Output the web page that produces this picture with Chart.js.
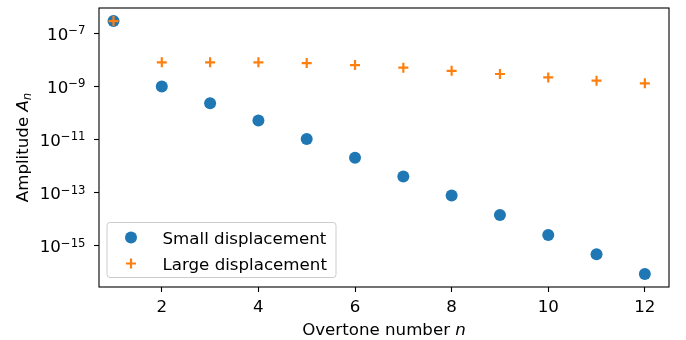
<!DOCTYPE html>
<html>
<head>
<meta charset="utf-8">
<script src="https://cdn.jsdelivr.net/npm/chart.js@4.4.0/dist/chart.umd.min.js"></script>
<style>
  body { margin: 0; background: #fff; }
  canvas { display: block; }
</style>
</head>
<body>
<canvas id="overtone-chart" width="686" height="340"></canvas>
<script>
// Overtone amplitudes for the two displacement cases
const overtones = [1, 2, 3, 4, 5, 6, 7, 8, 9, 10, 11, 12];
const smallAmp = [2.9e-7, 1.0e-9, 2.35e-10, 5.3e-11, 1.06e-11, 2.1e-12, 4.1e-13, 7.9e-14, 1.45e-14, 2.6e-15, 4.9e-16, 8.9e-17];
const largeAmp = [2.9e-7, 8.1e-9, 8.1e-9, 8.1e-9, 7.6e-9, 6.4e-9, 5.1e-9, 3.9e-9, 2.95e-9, 2.2e-9, 1.65e-9, 1.32e-9];
const xTicks = [2, 4, 6, 8, 10, 12];
const yTicks = [1e-7, 1e-9, 1e-11, 1e-13, 1e-15];

const FONT = '"DejaVu Sans", sans-serif';
const BIG = 16.67;
const SMALL = 11.7;

// Draw runs of text (regular / italic, optional baseline shift) starting at x
function drawRuns(ctx, runs, x, y) {
    runs.forEach(r => {
        ctx.font = (r.italic ? 'oblique ' : '') + r.size + 'px ' + FONT;
        ctx.fillText(r.text, x, y + (r.dy || 0));
        x += ctx.measureText(r.text).width;
    });
}

function runsWidth(ctx, runs) {
    return runs.reduce((w, r) => {
        ctx.font = (r.italic ? 'oblique ' : '') + r.size + 'px ' + FONT;
        return w + ctx.measureText(r.text).width;
    }, 0);
}

function drawMarker(ctx, ds, x, y) {
    ctx.save();
    if (ds.pointStyle === 'cross') {
        const r = ds.pointRadius;
        ctx.strokeStyle = ds.borderColor;
        ctx.lineWidth = ds.borderWidth;
        ctx.beginPath();
        ctx.moveTo(x - r, y); ctx.lineTo(x + r, y);
        ctx.moveTo(x, y - r); ctx.lineTo(x, y + r);
        ctx.stroke();
    } else {
        ctx.fillStyle = ds.backgroundColor;
        ctx.beginPath();
        ctx.arc(x, y, ds.pointRadius, 0, Math.PI * 2);
        ctx.fill();
    }
    ctx.restore();
}

// Frame, tick labels with exponents, axis titles and the inset legend
const axesDecor = {
    id: 'axesDecor',
    afterDraw(chart) {
        const { ctx, chartArea: a, scales } = chart;
        ctx.save();

        ctx.strokeStyle = '#000';
        ctx.lineWidth = 1.1;
        ctx.strokeRect(a.left, a.top, a.right - a.left, a.bottom - a.top);

        ctx.fillStyle = '#000';
        ctx.textBaseline = 'alphabetic';

        // x tick labels
        ctx.textAlign = 'center';
        ctx.font = BIG + 'px ' + FONT;
        scales.x.ticks.forEach(t => {
            ctx.fillText(String(t.value), scales.x.getPixelForValue(t.value), a.bottom + 24.8);
        });

        // y tick labels as 10^exp
        ctx.textAlign = 'left';
        scales.y.ticks.forEach(t => {
            const py = scales.y.getPixelForValue(t.value);
            const exp = Math.round(Math.log10(t.value));
            const runs = [
                { text: '10', size: BIG },
                { text: (exp < 0 ? '\u2212' : '') + Math.abs(exp), size: SMALL, dy: -5.8 }
            ];
            const w = runsWidth(ctx, runs);
            drawRuns(ctx, runs, a.left - 13.5 - w, py + 6.5);
        });

        // x axis title
        const xRuns = [
            { text: 'Overtone number ', size: BIG },
            { text: 'n', size: BIG, italic: true }
        ];
        const xw = runsWidth(ctx, xRuns);
        drawRuns(ctx, xRuns, (a.left + a.right) / 2 - xw / 2, 334.7);

        // y axis title, rotated
        const yRuns = [
            { text: 'Amplitude ', size: BIG },
            { text: 'A', size: BIG, italic: true },
            { text: 'n', size: SMALL, italic: true, dy: 3.5 }
        ];
        const yw = runsWidth(ctx, yRuns);
        ctx.save();
        ctx.translate(27.6, (a.top + a.bottom) / 2);
        ctx.rotate(-Math.PI / 2);
        drawRuns(ctx, yRuns, -yw / 2, 0);
        ctx.restore();

        // legend box
        const lx = a.left + 8, ly = 222.5, lw = 229, lh = 55, rad = 3;
        ctx.beginPath();
        ctx.roundRect(lx, ly, lw, lh, rad);
        ctx.fillStyle = 'rgba(255,255,255,0.8)';
        ctx.fill();
        ctx.strokeStyle = '#cccccc';
        ctx.lineWidth = 1;
        ctx.stroke();

        ctx.fillStyle = '#000';
        ctx.font = BIG + 'px ' + FONT;
        chart.data.datasets.forEach((ds, i) => {
            const cy = 237.5 + i * 26;
            drawMarker(ctx, ds, a.left + 32, cy);
            ctx.fillStyle = '#000';
            ctx.font = BIG + 'px ' + FONT;
            ctx.fillText(ds.label, a.left + 63.5, cy + 6);
        });

        ctx.restore();
    }
};

const ctx = document.getElementById('overtone-chart').getContext('2d');

new Chart(ctx, {
    type: 'scatter',
    data: {
        datasets: [
            {
                label: 'Small displacement',
                data: overtones.map((n, i) => ({ x: n, y: smallAmp[i] })),
                pointStyle: 'circle',
                pointRadius: 6,
                backgroundColor: '#1f77b4',
                borderColor: '#1f77b4',
                borderWidth: 0,
                order: 1
            },
            {
                label: 'Large displacement',
                data: overtones.map((n, i) => ({ x: n, y: largeAmp[i] })),
                pointStyle: 'cross',
                pointRadius: 5,
                backgroundColor: '#ff7f0e',
                borderColor: '#ff7f0e',
                borderWidth: 2.2,
                order: 0
            }
        ]
    },
    options: {
        responsive: false,
        animation: false,
        events: [],
        layout: {
            padding: { top: 8, right: 17, bottom: 0, left: 0 }
        },
        plugins: {
            legend: { display: false },
            tooltip: { enabled: false }
        },
        scales: {
            x: {
                type: 'linear',
                min: 0.7,
                max: 12.5,
                bounds: 'data',
                afterBuildTicks: scale => {
                    scale.ticks = xTicks.map(v => ({ value: v }));
                },
                afterFit: scale => { scale.height = 53; },
                ticks: { display: false },
                border: { display: false },
                grid: {
                    drawOnChartArea: false,
                    drawTicks: true,
                    tickLength: 5,
                    tickColor: '#000',
                    tickWidth: 1.1
                }
            },
            y: {
                type: 'logarithmic',
                min: Math.pow(10, -16.544),
                max: Math.pow(10, -6.047),
                bounds: 'data',
                afterBuildTicks: scale => {
                    scale.ticks = yTicks.map(v => ({ value: v }));
                },
                afterFit: scale => { scale.width = 99; },
                ticks: { display: false },
                border: { display: false },
                grid: {
                    drawOnChartArea: false,
                    drawTicks: true,
                    tickLength: 5,
                    tickColor: '#000',
                    tickWidth: 1.1
                }
            }
        }
    },
    plugins: [axesDecor]
});
</script>
</body>
</html>
